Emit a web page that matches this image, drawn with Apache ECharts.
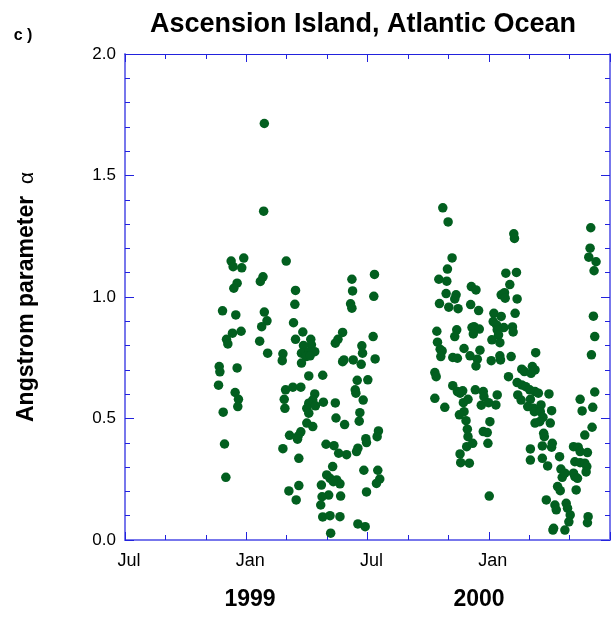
<!DOCTYPE html>
<html>
<head>
<meta charset="utf-8">
<script src="https://cdn.jsdelivr.net/npm/echarts@6/dist/echarts.min.js"></script>
<style>
html,body{margin:0;padding:0;background:#fff;}
#c{width:616px;height:618px;}
</style>
</head>
<body>
<div id="c"></div>
<script>
// ---- data ----
const titleText = 'Ascension Island, Atlantic Ocean';
const panelLabel = 'c )';
const yAxisTitle = 'Angstrom parameter';
const xTickLabels = ['Jul', 'Jan', 'Jul', 'Jan', ''];
const yearLabels = ['1999', '2000'];
const startDate = '1998-07-01';
const endDate = '2000-07-01';

const season1Dates = [
'1999-01-27','1999-01-26','1998-12-08','1998-12-11','1998-12-27','1998-12-24','1999-03-01','1999-01-25','1999-01-21','1998-12-17',
'1998-12-12','1999-03-15','1999-03-14','1999-06-08','1999-06-09','1999-06-06','1999-06-08','1999-07-12','1999-07-11','1998-11-25',
'1998-12-15','1999-01-27','1999-01-31','1999-01-23','1999-03-12','1998-12-10','1998-12-23','1998-12-01','1998-12-03','1999-01-20',
'1999-02-01','1999-03-15','1999-03-26','1999-04-07','1999-04-08','1999-03-27','1999-03-24','1999-04-04','1999-04-13','1999-03-31',
'1999-03-24','1999-04-06','1999-02-24','1999-02-23','1999-05-25','1999-05-18','1999-05-14','1999-06-23','1999-06-24','1999-07-10',
'1999-07-13','1999-05-25','1999-05-27','1999-06-10','1999-06-22','1998-11-20','1998-11-21','1998-12-17','1998-11-19','1999-04-04',
'1999-04-25','1999-06-16','1999-07-02','1999-06-13','1999-06-14','1999-06-25','1998-12-14','1998-12-19','1998-12-18','1998-11-26',
'1999-02-28','1999-03-11','1999-03-23','1999-02-26','1999-02-27','1999-04-13','1999-04-10','1999-04-04','1999-04-14','1999-04-26',
'1999-04-01','1999-04-04','1999-05-14','1999-05-15','1999-05-28','1999-06-20','1999-06-19','1999-04-01','1999-04-10','1999-03-23',
'1999-03-19','1999-03-18','1999-03-06','1999-02-24','1999-03-20','1998-11-28','1998-11-30','1999-07-18','1999-07-16','1999-06-29',
'1999-06-30','1999-06-17','1999-06-15','1999-05-31','1999-05-19','1999-05-12','1999-04-30','1999-05-10','1999-05-01','1999-05-06',
'1999-05-16','1999-05-21','1999-05-11','1999-04-23','1999-05-04','1999-04-24','1999-04-22','1999-05-22','1999-03-20','1999-03-05',
'1999-03-16','1999-04-25','1999-05-06','1999-05-21','1999-05-07','1999-06-17','1999-06-28','1999-06-26','1999-07-17','1999-07-20',
'1999-07-15','1999-06-30'
];
const season1Alpha = [
1.714,1.353,1.148,1.125,1.160,1.120,1.148,1.083,1.064,1.057,
1.036,1.027,0.970,1.073,1.025,0.972,0.954,1.093,1.003,0.943,
0.926,0.938,0.902,0.878,0.894,0.851,0.859,0.826,0.807,0.818,
0.769,0.826,0.856,0.826,0.803,0.800,0.769,0.775,0.775,0.755,
0.728,0.758,0.766,0.738,0.854,0.826,0.810,0.799,0.769,0.837,
0.745,0.734,0.741,0.741,0.723,0.714,0.692,0.708,0.637,0.675,
0.678,0.657,0.659,0.618,0.604,0.576,0.607,0.579,0.549,0.526,
0.618,0.629,0.629,0.579,0.542,0.601,0.576,0.563,0.552,0.567,
0.542,0.522,0.564,0.502,0.475,0.524,0.489,0.481,0.467,0.445,
0.428,0.415,0.431,0.376,0.336,0.395,0.258,0.449,0.425,0.417,
0.401,0.378,0.364,0.351,0.357,0.388,0.394,0.302,0.268,0.254,
0.247,0.231,0.240,0.226,0.185,0.178,0.144,0.181,0.224,0.202,
0.165,0.095,0.100,0.096,0.028,0.066,0.055,0.287,0.287,0.251,
0.233,0.198
];

const season2Dates = [
'1999-10-23','1999-10-31','2000-02-07','2000-02-08','2000-06-02','2000-06-01','2000-05-30','2000-06-10','2000-06-07','1999-11-06',
'1999-10-30','1999-10-17','1999-10-29','2000-01-26','2000-02-11','2000-02-01','1999-12-05','1999-12-12','1999-10-28','1999-11-12',
'1999-11-10','2000-01-19','2000-01-24','2000-01-25','2000-02-12','1999-10-18','1999-11-01','1999-11-15','1999-12-04','1999-12-16',
'2000-02-09','2000-01-08','2000-01-19','2000-01-07','2000-01-12','2000-01-23','2000-01-13','2000-02-05','2000-02-06','2000-01-15',
'2000-06-06','2000-06-08','2000-06-03','1999-10-14','1999-10-15','1999-11-13','1999-11-10','1999-12-06','1999-12-09','1999-12-17',
'1999-12-08','2000-01-05','2000-01-17','2000-03-11','1999-10-19','1999-10-22','1999-10-20','1999-11-24','1999-12-18','1999-11-07',
'1999-11-14','1999-12-03','1999-12-14','2000-01-04','2000-01-17','2000-02-03','1999-12-12','2000-01-18','2000-06-08','2000-05-17',
'2000-05-20','2000-06-05','2000-06-04','2000-05-24','1999-10-11','1999-10-13','1999-10-11','1999-10-26','1999-11-07','1999-11-14',
'1999-11-22','1999-11-18','1999-11-23','1999-11-30','1999-11-24','1999-11-17','1999-11-27','1999-11-29','1999-11-30','1999-11-28',
'1999-12-07','1999-11-18','1999-11-19','1999-12-02','1999-12-11','1999-12-23','1999-12-24','1999-12-20','1999-12-31','2000-01-13',
'2000-01-11','2000-01-02','1999-12-23','1999-12-29','1999-12-30','2000-01-01','2000-01-30','2000-02-19','2000-02-23','2000-03-06',
'2000-03-10','2000-03-04','2000-02-12','2000-02-19','2000-02-25','2000-03-02','2000-03-10','2000-03-15','2000-03-31','2000-02-13',
'2000-02-18','2000-03-03','2000-02-28','2000-03-08','2000-03-09','2000-03-19','2000-03-18','2000-04-04','2000-03-22','2000-03-17',
'2000-03-10','2000-04-02','2000-03-23','2000-03-24','2000-03-03','2000-03-21','2000-04-04','2000-04-05','2000-03-03','2000-03-21',
'2000-03-29','2000-04-16','2000-04-18','2000-04-20','2000-04-24','2000-05-07','2000-05-09','2000-05-13','2000-05-07','2000-05-14',
'2000-05-17','2000-05-28','2000-05-09','2000-05-17','2000-05-24','2000-05-27','2000-05-26','2000-04-13','2000-04-17','2000-05-11',
'2000-03-27','2000-04-09','2000-04-11','2000-04-26','2000-04-28','2000-05-02','2000-04-30','2000-04-06','2000-04-07','2000-04-24',
'2000-05-29','2000-05-28'
];
const season2Alpha = [
1.367,1.309,1.260,1.241,1.285,1.201,1.164,1.145,1.108,1.161,
1.115,1.073,1.065,1.098,1.101,1.051,1.043,1.029,1.014,1.009,
0.992,1.009,1.018,0.995,0.992,0.973,0.958,0.952,0.969,0.944,
0.933,0.933,0.920,0.899,0.885,0.874,0.865,0.877,0.856,0.844,
0.921,0.837,0.762,0.859,0.814,0.865,0.837,0.874,0.878,0.868,
0.848,0.824,0.812,0.771,0.785,0.778,0.755,0.788,0.781,0.751,
0.748,0.758,0.744,0.738,0.758,0.755,0.716,0.741,0.609,0.579,
0.531,0.546,0.464,0.432,0.689,0.672,0.583,0.546,0.635,0.611,
0.614,0.604,0.565,0.579,0.528,0.515,0.491,0.456,0.425,0.384,
0.398,0.354,0.318,0.316,0.618,0.611,0.590,0.555,0.565,0.597,
0.556,0.487,0.446,0.442,0.398,0.181,0.672,0.703,0.693,0.714,
0.700,0.686,0.648,0.638,0.631,0.618,0.611,0.604,0.601,0.597,
0.576,0.579,0.549,0.542,0.528,0.556,0.528,0.532,0.505,0.487,
0.481,0.481,0.439,0.425,0.375,0.387,0.382,0.398,0.329,0.336,
0.305,0.343,0.292,0.258,0.275,0.275,0.261,0.254,0.384,0.382,
0.364,0.360,0.322,0.318,0.316,0.302,0.280,0.220,0.203,0.206,
0.165,0.144,0.124,0.151,0.131,0.103,0.075,0.041,0.048,0.041,
0.096,0.071
];

// ---- build ----
const DAY = 86400000;
const t0 = Date.parse(startDate);
const span = (Date.parse(endDate) - t0) / DAY; // 731 days
const toDays = d => (Date.parse(d) - t0) / DAY;
const allDates = season1Dates.concat(season2Dates);
const allAlpha = season1Alpha.concat(season2Alpha);
const points = allDates.map((d, i) => [toDays(d), allAlpha[i]]);

const FONT = '"Liberation Sans", Arial, Helvetica, sans-serif';
const lightBlue = '#7777ec';
const darkBlue = '#2222dd';
const dotColor = '#025f1f';

const chart = echarts.init(document.getElementById('c'), null, {renderer: 'canvas'});
const xCommon = {
  type: 'value', min: 0, max: span, interval: span / 4,
  splitLine: {show: false}, minorSplitLine: {show: false}
};
const yCommon = {
  type: 'value', min: 0, max: 2, interval: 0.5,
  splitLine: {show: false}, minorSplitLine: {show: false}
};
chart.setOption({
  animation: false,
  backgroundColor: '#ffffff',
  title: {
    text: titleText, left: 363, top: 11, padding: 0, textAlign: 'center',
    textStyle: {fontFamily: FONT, fontSize: 27, fontWeight: 'bold', color: '#000'}
  },
  grid: {left: 125, right: 6, top: 54, bottom: 78, containLabel: false},
  xAxis: [
    Object.assign({}, xCommon, {
      position: 'bottom',
      axisLine: {show: true, onZero: false, lineStyle: {color: lightBlue, width: 2}},
      axisTick: {show: true, inside: true, length: 8, lineStyle: {color: darkBlue, width: 1}},
      minorTick: {show: true, splitNumber: 3, length: 5, lineStyle: {color: darkBlue, width: 1}},
      axisLabel: {
        show: true, margin: 12, fontFamily: FONT, fontSize: 18, color: '#000', padding: [0, 0, 0, 8],
        formatter: v => xTickLabels[Math.round(v / (span / 4))] || ''
      }
    }),
    Object.assign({}, xCommon, {
      position: 'top',
      axisLine: {show: true, onZero: false, lineStyle: {color: darkBlue, width: 1}},
      axisTick: {show: true, inside: true, length: 8, lineStyle: {color: darkBlue, width: 1}},
      minorTick: {show: true, splitNumber: 3, length: 5, lineStyle: {color: darkBlue, width: 1}},
      axisLabel: {show: false}
    })
  ],
  yAxis: [
    Object.assign({}, yCommon, {
      position: 'left',
      axisLine: {show: true, onZero: false, lineStyle: {color: lightBlue, width: 2}},
      axisTick: {show: true, inside: true, length: 9, lineStyle: {color: darkBlue, width: 1}},
      minorTick: {show: true, splitNumber: 5, length: 5, lineStyle: {color: darkBlue, width: 1}},
      axisLabel: {
        show: true, margin: 9, fontFamily: FONT, fontSize: 17, color: '#000',
        formatter: v => v.toFixed(1)
      }
    }),
    Object.assign({}, yCommon, {
      position: 'right',
      axisLine: {show: true, onZero: false, lineStyle: {color: lightBlue, width: 2}},
      axisTick: {show: true, inside: true, length: 9, lineStyle: {color: darkBlue, width: 1}},
      minorTick: {show: true, splitNumber: 5, length: 5, lineStyle: {color: darkBlue, width: 1}},
      axisLabel: {show: false}
    })
  ],
  graphic: [
    {type: 'text', x: 23, y: 36, style: {text: panelLabel, font: 'bold 16px ' + FONT, fill: '#000', align: 'center', verticalAlign: 'middle'}},
    {type: 'text', x: 27, y: 297, rotation: Math.PI / 2,
      style: {
        text: '{b|' + yAxisTitle + '}{g|  α}', align: 'center', verticalAlign: 'middle',
        rich: {
          b: {fontFamily: FONT, fontSize: 23, fontWeight: 'bold', fill: '#000', color: '#000'},
          g: {fontFamily: FONT, fontSize: 21, fontWeight: 'normal', fill: '#000', color: '#000'}
        }
      }},
    {type: 'text', x: 250, y: 600, style: {text: yearLabels[0], font: 'bold 23px ' + FONT, fill: '#000', align: 'center', verticalAlign: 'middle'}},
    {type: 'text', x: 479, y: 600, style: {text: yearLabels[1], font: 'bold 23px ' + FONT, fill: '#000', align: 'center', verticalAlign: 'middle'}}
  ],
  series: [{
    type: 'scatter',
    xAxisIndex: 0, yAxisIndex: 0,
    symbol: 'circle', symbolSize: 9.5,
    itemStyle: {color: dotColor, opacity: 1},
    data: points
  }]
});
</script>
</body>
</html>
